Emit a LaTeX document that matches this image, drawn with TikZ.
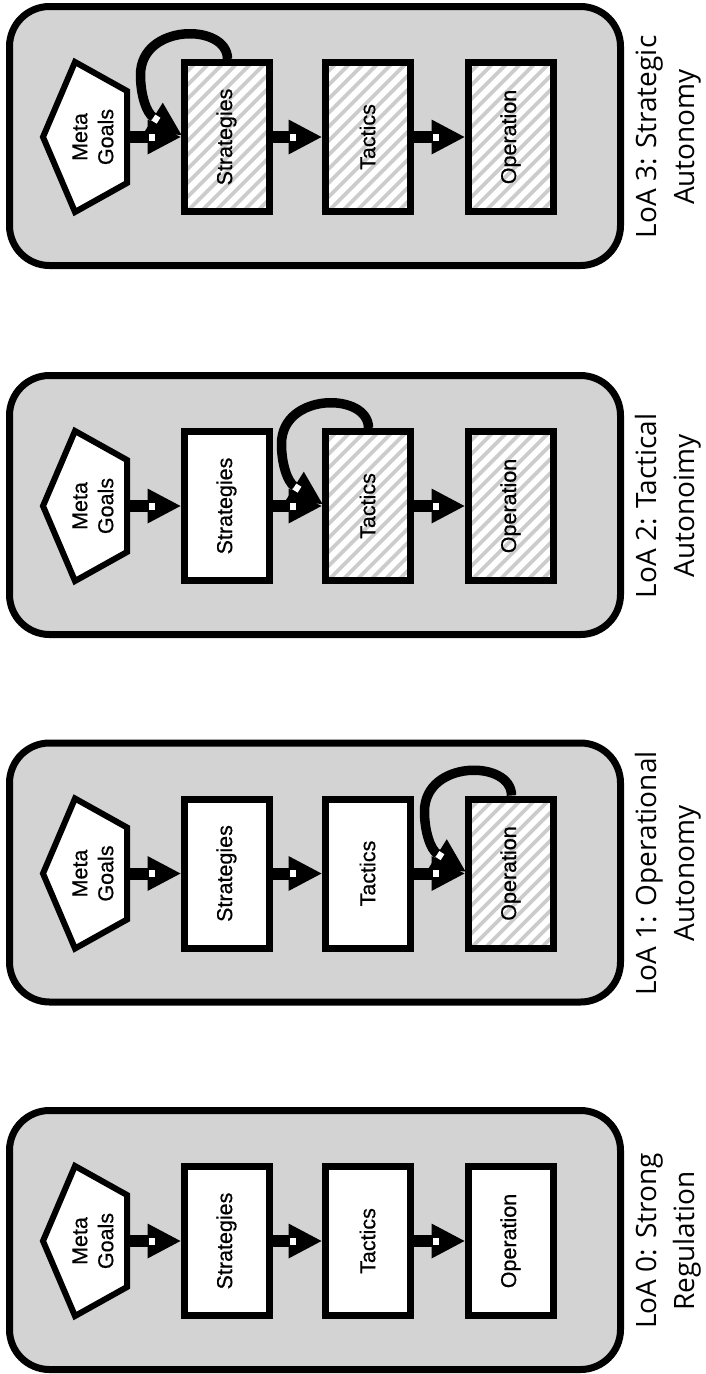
\documentclass[tikz,border=0pt]{standalone}
\usepackage{fontspec}
\usepackage{graphicx}
\newfontfamily\boxfont[FakeBold=0.6]{Liberation Sans}
\newfontfamily\labfont{Open Sans}
\usetikzlibrary{calc}
\definecolor{panelgray}{RGB}{211,211,211}
\definecolor{stripegray}{RGB}{204,204,204}
\tikzset{
  panel/.style={draw, line width=7pt, fill=panelgray, rounded corners=40pt,
    minimum width=611pt, minimum height=259pt, inner sep=0pt, outer sep=0pt},
  stage/.style={draw, line width=7pt, fill=white, minimum width=85pt,
    minimum height=149pt, inner sep=0pt, outer sep=3.5pt,
    font=\boxfont\fontsize{21.5}{26}\selectfont},
  hatched/.style={path picture={
    \foreach \k in {-165,-151,...,95}{
      \draw[line width=3.6pt, stripegray]
        ([xshift=\k pt]path picture bounding box.south west) -- ++(260pt,260pt);}}},
  goal/.style={minimum width=70pt, minimum height=150pt, inner sep=0pt,
    outer sep=0pt, font=\boxfont\fontsize{21.5}{26}\selectfont},
  pentagon/.style={draw, line width=6pt, fill=white, line join=miter},
  loa/.style={rotate=90, align=center, inner sep=0pt,
    font=\labfont\fontsize{28}{38}\selectfont},
  loopline/.style={line width=9.5pt},
}
% block arrow from the east side of #1 to the west side of #2
\newcommand\blockarr[2]{%
  \fill let \p1=(#1.east), \p2=(#2.west) in
    (\x1-1pt,\y2-6pt) rectangle (\x2-28pt,\y2+6pt);
  \fill let \p2=(#2.west) in
    (\x2-33pt,\y2+17.5pt) -- (\x2,\y2) -- (\x2-33pt,\y2-17.5pt) -- cycle;
  \fill[white] let \p2=(#2.west) in
    (\x2-32pt,\y2-3.5pt) rectangle (\x2-26pt,\y2+3.5pt);}
% curved arrow leaving the top of a stage and re-entering its west side
\newcommand\selfloop[1]{%
  \draw[loopline] ([xshift=47pt]#1.north west)
    .. controls +(0pt,36pt) and +(0pt,52pt) .. ([xshift=-40pt,yshift=62pt]#1.west)
    .. controls +(0pt,-20pt) and +(-7pt,4.5pt) .. ([xshift=-27pt,yshift=19.5pt]#1.west);
  \begin{scope}[shift={(#1.west)}]
    \fill (1,-2) -- (-36.3,-4.7) -- (-17.7,-34.3) -- cycle;
    \fill[white] (-20.1,-19.28) -- (-23.8,-13.34) -- (-28.9,-16.52) -- (-25.2,-22.46) -- cycle;
  \end{scope}}
% one level-of-autonomy panel: id, centre line, three stage styles, caption
\newcommand\drawpanel[6]{%
  \node[panel] (panel#1) at (315,#2-1) {};
  \draw[pentagon] (43,#2) -- (75,#2-75) -- (127,#2-46) -- (127,#2+46) -- (75,#2+75) -- cycle;
  \node[goal] (goal#1) at (95,#2)
    {\rotatebox{90}{\begin{tabular}{@{}c@{}}Meta\\Goals\end{tabular}}};
  \node[stage,#3] (strat#1) at (226.5,#2) {\rotatebox{90}{Strategies}};
  \node[stage,#4] (tact#1) at (367.5,#2) {\rotatebox{90}{Tactics}};
  \node[stage,#5] (oper#1) at (510.5,#2) {\rotatebox{90}{Operation}};
  \blockarr{goal#1}{strat#1}
  \blockarr{strat#1}{tact#1}
  \blockarr{tact#1}{oper#1}
  \node[loa] (label#1) at (668.5,#2) {#6};}
\begin{document}
\begin{tikzpicture}[x=1pt,y=-1pt]
  \useasboundingbox[fill=white] (0,0) rectangle (705,1374);
  \drawpanel{3}{137}{hatched}{hatched}{hatched}{LoA 3: Strategic\\Autonomy}
  \selfloop{strat3}
  \drawpanel{2}{506}{}{hatched}{hatched}{LoA 2: Tactical\\Autonoimy}
  \selfloop{tact2}
  \drawpanel{1}{873.5}{}{}{hatched}{LoA 1: Operational\\Autonomy}
  \selfloop{oper1}
  \drawpanel{0}{1241}{}{}{}{LoA 0: Strong\\Regulation}
\end{tikzpicture}
\end{document}
